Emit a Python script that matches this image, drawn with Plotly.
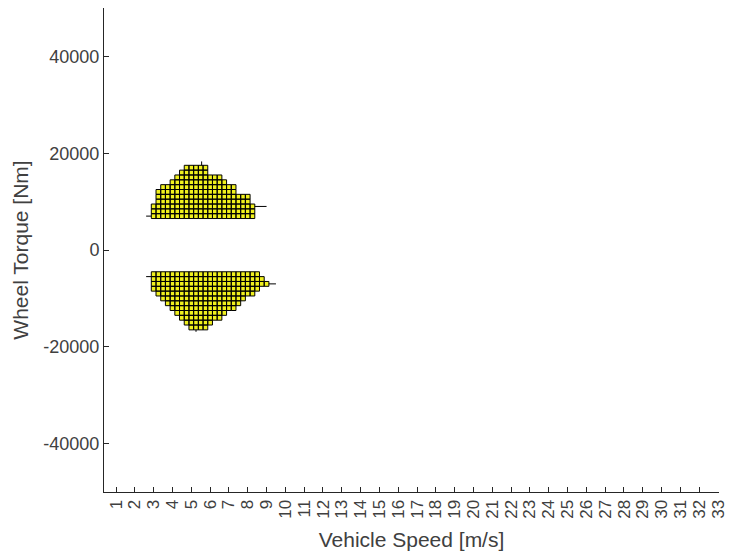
import plotly.graph_objects as go

# Operating grid: torque rows and the first/last cell-centre speed in each row
upper_torque = [7000, 8000, 9000, 10000, 11000, 12000, 13000, 14000, 15000, 16000, 17000]
upper_speed_first = [3.0, 3.0, 3.0, 3.25, 3.25, 3.25, 3.5, 4.0, 4.25, 4.5, 4.75]
upper_speed_last = [8.25, 8.25, 8.25, 8.0, 8.0, 7.25, 7.25, 6.75, 6.5, 5.75, 5.75]

lower_torque = [-5000, -6000, -7000, -8000, -9000, -10000, -11000, -12000, -13000, -14000, -15000, -16000]
lower_speed_first = [3.0, 3.0, 3.0, 3.0, 3.25, 3.5, 3.75, 4.0, 4.25, 4.5, 4.75, 5.0]
lower_speed_last = [8.5, 8.75, 9.0, 8.5, 8.25, 7.75, 7.5, 7.25, 6.75, 6.5, 6.0, 5.75]

speed_step = 0.25
torque_step = 1000

# short boundary line segments sticking out of the grids
seg_speed = [2.6, 2.875, None, 5.55, 5.55, None, 8.375, 9.0, None,
             2.6, 2.875, None, 5.25, 5.25, None, 9.125, 9.5]
seg_torque = [7000, 7000, None, 17500, 18300, None, 9000, 9000, None,
              -5500, -5500, None, -16500, -16900, None, -7000, -7000]

x_ticks = list(range(1, 34))
y_ticks = [-40000, -20000, 0, 20000, 40000]


def cells(torques, firsts, lasts):
    xs, ys = [], []
    for t, a, b in zip(torques, firsts, lasts):
        n = int(round((b - a) / speed_step)) + 1
        for k in range(n):
            s = a + k * speed_step
            x0, x1 = s - speed_step / 2, s + speed_step / 2
            y0, y1 = t - torque_step / 2, t + torque_step / 2
            xs += [x0, x1, x1, x0, x0, None]
            ys += [y0, y0, y1, y1, y0, None]
    return xs, ys


fig = go.Figure()
for tq, f, l in [(upper_torque, upper_speed_first, upper_speed_last),
                 (lower_torque, lower_speed_first, lower_speed_last)]:
    xs, ys = cells(tq, f, l)
    fig.add_trace(go.Scatter(x=xs, y=ys, mode="lines", fill="toself",
                             fillcolor="#f0f01e",
                             line=dict(color="#000000", width=1),
                             hoverinfo="skip", showlegend=False))

fig.add_trace(go.Scatter(x=seg_speed, y=seg_torque, mode="lines",
                         line=dict(color="#000000", width=1),
                         hoverinfo="skip", showlegend=False))

axis_color = "#262626"
font_family = "Liberation Sans, Arial, sans-serif"

fig.update_layout(
    width=729, height=558,
    margin=dict(l=104, r=10, t=8, b=66),
    paper_bgcolor="white", plot_bgcolor="white",
    font=dict(family=font_family, color="#404040", size=18),
    showlegend=False,
    xaxis=dict(
        range=[0.36, 33.05], automargin=False,
        tickmode="array", tickvals=x_ticks, ticktext=[str(v) for v in x_ticks],
        tickangle=-90, tickfont=dict(size=17, color="#404040"),
        ticks="inside", ticklen=5, tickcolor=axis_color,
        showline=True, linecolor=axis_color, linewidth=1,
        showgrid=False, zeroline=False, mirror=False,
        title=dict(text="Vehicle Speed [m/s]", font=dict(size=21, color="#404040"), standoff=14),
    ),
    yaxis=dict(
        range=[-50000, 50000], automargin=False,
        tickmode="array", tickvals=y_ticks, ticktext=[str(v) for v in y_ticks],
        tickfont=dict(size=18, color="#404040"),
        ticks="inside", ticklen=5, tickcolor=axis_color,
        showline=True, linecolor=axis_color, linewidth=1,
        showgrid=False, zeroline=False, mirror=False,
        title=dict(text="Wheel Torque [Nm]", font=dict(size=21, color="#404040"), standoff=8),
    ),
)

fig.write_html("out.html")
